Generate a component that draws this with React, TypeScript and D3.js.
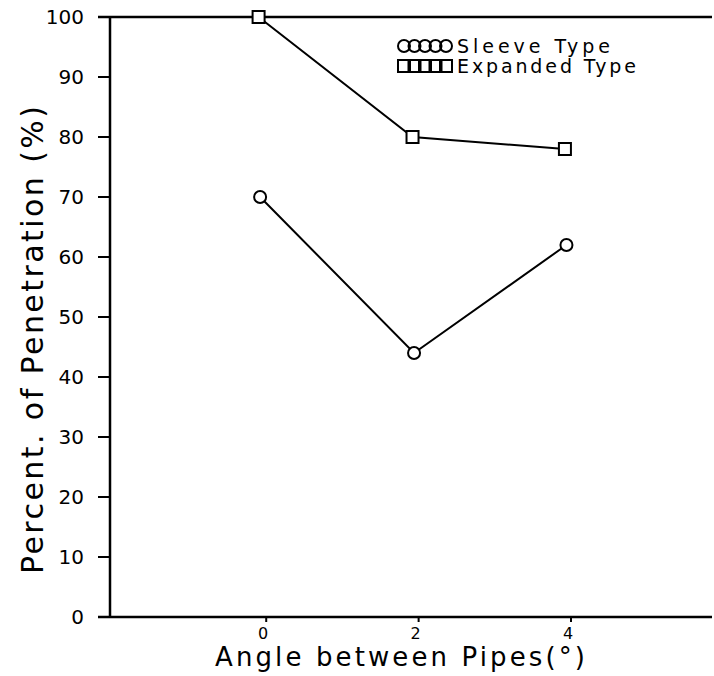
import React, { useEffect, useRef } from 'react';
import * as d3 from 'd3';

// angle between pipes (deg)
const sleeveAngles = [-0.08, 1.94, 3.94];
const sleeveValues = [70, 44, 62];
const expandedAngles = [-0.1, 1.92, 3.92];
const expandedValues = [100, 80, 78];
const xTicks = [0, 2, 4];
const yTicks = [0, 10, 20, 30, 40, 50, 60, 70, 80, 90, 100];
const legendLabels = ['Sleeve Type', 'Expanded Type'];

const App = () => {
  const ref = useRef<HTMLDivElement>(null);

  useEffect(() => {
    if (!ref.current) return;
    const width = 714, height = 676;
    const font = '"DejaVu Sans", sans-serif';

    d3.select(ref.current).selectAll('*').remove();

    const svg = d3.select(ref.current)
      .append('svg')
      .attr('width', width)
      .attr('height', height)
      .style('display', 'block')
      .style('background', '#fff');

    const x = d3.scaleLinear().domain([-2.05, 5.85]).range([110, 712]);
    const y = d3.scaleLinear().domain([0, 100]).range([617, 17]);

    // axes: left + bottom + top line, no right border
    const ax = svg.append('g').attr('stroke', '#000').attr('stroke-width', 2.5);
    ax.append('line').attr('x1', x(-2.05)).attr('x2', x(-2.05)).attr('y1', y(0)).attr('y2', y(100));
    ax.append('line').attr('x1', x(-2.05) - 12).attr('x2', x(5.85)).attr('y1', y(0)).attr('y2', y(0));
    ax.append('line').attr('x1', x(-2.05) - 12).attr('x2', x(5.85)).attr('y1', y(100)).attr('y2', y(100));

    // y ticks
    svg.append('g')
      .selectAll('line')
      .data(yTicks)
      .enter()
      .append('line')
      .attr('x1', x(-2.05) - 12)
      .attr('x2', x(-2.05))
      .attr('y1', d => y(d))
      .attr('y2', d => y(d))
      .attr('stroke', '#000')
      .attr('stroke-width', 2);

    svg.append('g')
      .selectAll('text')
      .data(yTicks)
      .enter()
      .append('text')
      .text(d => d)
      .attr('x', x(-2.05) - 26)
      .attr('y', d => y(d))
      .attr('dy', '0.36em')
      .attr('text-anchor', 'end')
      .style('font-family', font)
      .style('font-size', '20px');

    // x ticks
    svg.append('g')
      .selectAll('line')
      .data(xTicks)
      .enter()
      .append('line')
      .attr('x1', d => x(d))
      .attr('x2', d => x(d))
      .attr('y1', y(0))
      .attr('y2', y(0) + 5)
      .attr('stroke', '#000')
      .attr('stroke-width', 2);

    svg.append('g')
      .selectAll('text')
      .data(xTicks)
      .enter()
      .append('text')
      .text(d => d)
      .attr('x', d => x(d) - 3)
      .attr('y', y(0) + 22)
      .attr('text-anchor', 'middle')
      .style('font-family', font)
      .style('font-size', '16px');

    // axis titles
    svg.append('text')
      .text('Angle between Pipes(°)')
      .attr('x', 400)
      .attr('y', 666)
      .attr('text-anchor', 'middle')
      .attr('textLength', 370)
      .attr('lengthAdjust', 'spacing')
      .style('font-family', font)
      .style('font-size', '26px');

    svg.append('text')
      .text('Percent. of Penetration (%)')
      .attr('transform', 'translate(43, 340) rotate(-90)')
      .attr('text-anchor', 'middle')
      .attr('textLength', 468)
      .attr('lengthAdjust', 'spacing')
      .style('font-family', font)
      .style('font-size', '30px');

    const line = d3.line<[number, number]>().x(d => x(d[0])).y(d => y(d[1]));
    const sleeve = sleeveAngles.map((a, i) => [a, sleeveValues[i]] as [number, number]);
    const expanded = expandedAngles.map((a, i) => [a, expandedValues[i]] as [number, number]);

    [sleeve, expanded].forEach(s => {
      svg.append('path')
        .attr('d', line(s))
        .attr('fill', 'none')
        .attr('stroke', '#000')
        .attr('stroke-width', 2);
    });

    // markers
    svg.append('g')
      .selectAll('circle')
      .data(sleeve)
      .enter()
      .append('circle')
      .attr('cx', d => x(d[0]))
      .attr('cy', d => y(d[1]))
      .attr('r', 6)
      .attr('fill', '#fff')
      .attr('stroke', '#000')
      .attr('stroke-width', 2);

    svg.append('g')
      .selectAll('rect')
      .data(expanded)
      .enter()
      .append('rect')
      .attr('x', d => x(d[0]) - 6)
      .attr('y', d => y(d[1]) - 6)
      .attr('width', 12)
      .attr('height', 12)
      .attr('fill', '#fff')
      .attr('stroke', '#000')
      .attr('stroke-width', 2);

    // legend: five overlapping symbols + label
    const lg = svg.append('g');
    const offs = d3.range(5).map(i => 404 + i * 10.5);
    lg.selectAll('circle')
      .data(offs)
      .enter()
      .append('circle')
      .attr('cx', d => d)
      .attr('cy', 46)
      .attr('r', 6)
      .attr('fill', 'none')
      .attr('stroke', '#000')
      .attr('stroke-width', 2);
    lg.selectAll('rect')
      .data(offs)
      .enter()
      .append('rect')
      .attr('x', d => d - 6)
      .attr('y', 60)
      .attr('width', 12)
      .attr('height', 12)
      .attr('fill', 'none')
      .attr('stroke', '#000')
      .attr('stroke-width', 2);
    lg.selectAll('text')
      .data(legendLabels)
      .enter()
      .append('text')
      .text(d => d)
      .attr('x', 457)
      .attr('y', (d, i) => 46 + i * 20)
      .attr('dy', '0.36em')
      .attr('textLength', (d, i) => (i === 0 ? 153 : 179))
      .attr('lengthAdjust', 'spacing')
      .style('font-family', font)
      .style('font-size', '19px');
  }, []);

  return <div ref={ref} style={{ position: 'absolute', left: 0, top: 0 }} />;
};

export default App;
